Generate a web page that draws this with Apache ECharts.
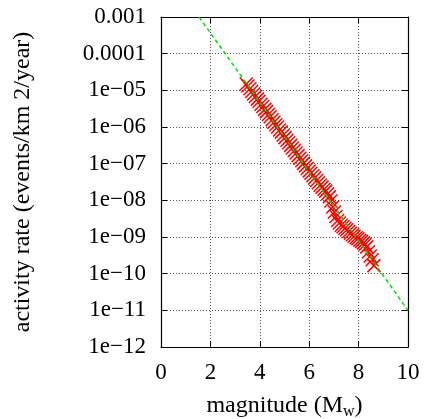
<!DOCTYPE html>
<html><head><meta charset="utf-8">
<script src="https://cdn.jsdelivr.net/npm/echarts@6/dist/echarts.min.js"></script>
<style>html,body{margin:0;padding:0;background:#fff}#c{width:425px;height:419px}</style>
</head><body><div id="c"></div>
<script>
const magnitudes = [3.45,3.52,3.60,3.67,3.75,3.82,3.90,3.97,4.05,4.12,4.20,4.27,4.35,4.42,4.50,4.57,4.65,4.72,4.80,4.87,4.95,5.02,5.10,5.17,5.25,5.32,5.40,5.47,5.55,5.62,5.70,5.77,5.85,5.92,6.00,6.07,6.15,6.22,6.30,6.37,6.45,6.52,6.60,6.67,6.75,6.82,6.88,6.95,7.02,7.08,7.15,7.22,7.30,7.37,7.45,7.52,7.60,7.67,7.75,7.82,7.90,7.97,8.05,8.12,8.20,8.27,8.33,8.40,8.47,8.55,8.62];
const activityRates = [1.48e-5,1.32e-5,1.10e-5,9.33e-6,7.94e-6,6.76e-6,5.75e-6,5.01e-6,4.17e-6,3.63e-6,3.02e-6,2.63e-6,2.19e-6,1.91e-6,1.58e-6,1.35e-6,1.15e-6,1.00e-6,8.32e-7,7.24e-7,6.03e-7,5.13e-7,4.37e-7,3.72e-7,3.16e-7,2.69e-7,2.29e-7,1.95e-7,1.66e-7,1.41e-7,1.20e-7,1.02e-7,8.71e-8,7.41e-8,6.31e-8,5.50e-8,4.68e-8,4.07e-8,3.47e-8,3.02e-8,2.57e-8,2.29e-8,2.00e-8,1.78e-8,1.51e-8,1.26e-8,9.55e-9,6.61e-9,4.79e-9,3.63e-9,2.82e-9,2.40e-9,2.09e-9,1.91e-9,1.74e-9,1.58e-9,1.41e-9,1.26e-9,1.15e-9,1.05e-9,9.55e-10,8.91e-10,8.13e-10,7.59e-10,6.92e-10,6.31e-10,5.37e-10,3.98e-10,3.02e-10,2.40e-10,1.66e-10];
const fitMagnitudes = [1.54, 10];
const fitRates = [1e-3, 1e-11];
const xTickLabels = ['0','2','4','6','8','10'];
const yTickLabels = ['1e\u221212','1e\u221211','1e\u221210','1e\u221209','1e\u221208','1e\u221207','1e\u221206','1e\u221205','0.0001','0.001'];

const font = 'Liberation Serif';
const chart = echarts.init(document.getElementById('c'));
const axisCommon = {
  axisLine: {show: true, onZero: false, lineStyle: {color: '#000', width: 1.2}},
  axisTick: {show: true, inside: true, length: 6, lineStyle: {color: '#000', width: 1}},
};
chart.setOption({
  animation: false,
  backgroundColor: '#fff',
  textStyle: {fontFamily: font},
  grid: {left: 161, right: 17, top: 17, bottom: 72, outerBoundsMode: 'none', containLabel: false},
  xAxis: [
    Object.assign({
      type: 'value', min: 0, max: 10, interval: 2, position: 'bottom',
      axisLabel: {fontFamily: font, fontSize: 23, color: '#000', margin: 14,
        formatter: (v) => xTickLabels[Math.round(v / 2)]},
      splitLine: {show: true, lineStyle: {color: '#555', width: 1, type: [1, 2]}},
      name: 'magnitude (M{sub|w})', nameLocation: 'middle', nameGap: 45,
      nameTextStyle: {fontFamily: font, fontSize: 24, color: '#000',
        rich: {sub: {fontFamily: font, fontSize: 16, color: '#000', padding: [12, 0, 0, 0]}}}
    }, axisCommon),
    Object.assign({
      type: 'value', min: 0, max: 10, interval: 2, position: 'top',
      axisLabel: {show: false}, splitLine: {show: false}
    }, axisCommon)
  ],
  yAxis: [
    Object.assign({
      type: 'log', logBase: 10, min: 1e-12, max: 1e-3, interval: 1, position: 'left',
      axisLabel: {fontFamily: font, fontSize: 23, color: '#000', margin: 15,
        formatter: (v) => yTickLabels[Math.round(Math.log10(v)) + 12]},
      splitLine: {show: true, lineStyle: {color: '#555', width: 1, type: [1, 2]}},
      name: 'activity rate (events/km 2/year)', nameLocation: 'middle', nameGap: 126,
      nameTextStyle: {fontFamily: font, fontSize: 24, color: '#000'}
    }, axisCommon),
    Object.assign({
      type: 'log', logBase: 10, min: 1e-12, max: 1e-3, interval: 1, position: 'right',
      axisLabel: {show: false}, splitLine: {show: false}
    }, axisCommon)
  ],
  series: [
    {
      type: 'line', xAxisIndex: 0, yAxisIndex: 0, z: 3,
      data: magnitudes.map((m, i) => [m, activityRates[i]]),
      symbol: 'path://M0,0L10,10M10,0L0,10', symbolSize: 13,
      itemStyle: {color: 'rgba(0,0,0,0)', borderColor: '#ff0000', borderWidth: 1.5},
      lineStyle: {color: '#ff0000', width: 1.2},
      emphasis: {disabled: true}
    },
    {
      type: 'line', xAxisIndex: 0, yAxisIndex: 0, z: 4,
      data: fitMagnitudes.map((m, i) => [m, fitRates[i]]),
      showSymbol: false, symbol: 'none',
      lineStyle: {color: '#00e000', width: 1.5, type: [4, 3]},
      emphasis: {disabled: true}
    }
  ]
});
</script></body></html>
